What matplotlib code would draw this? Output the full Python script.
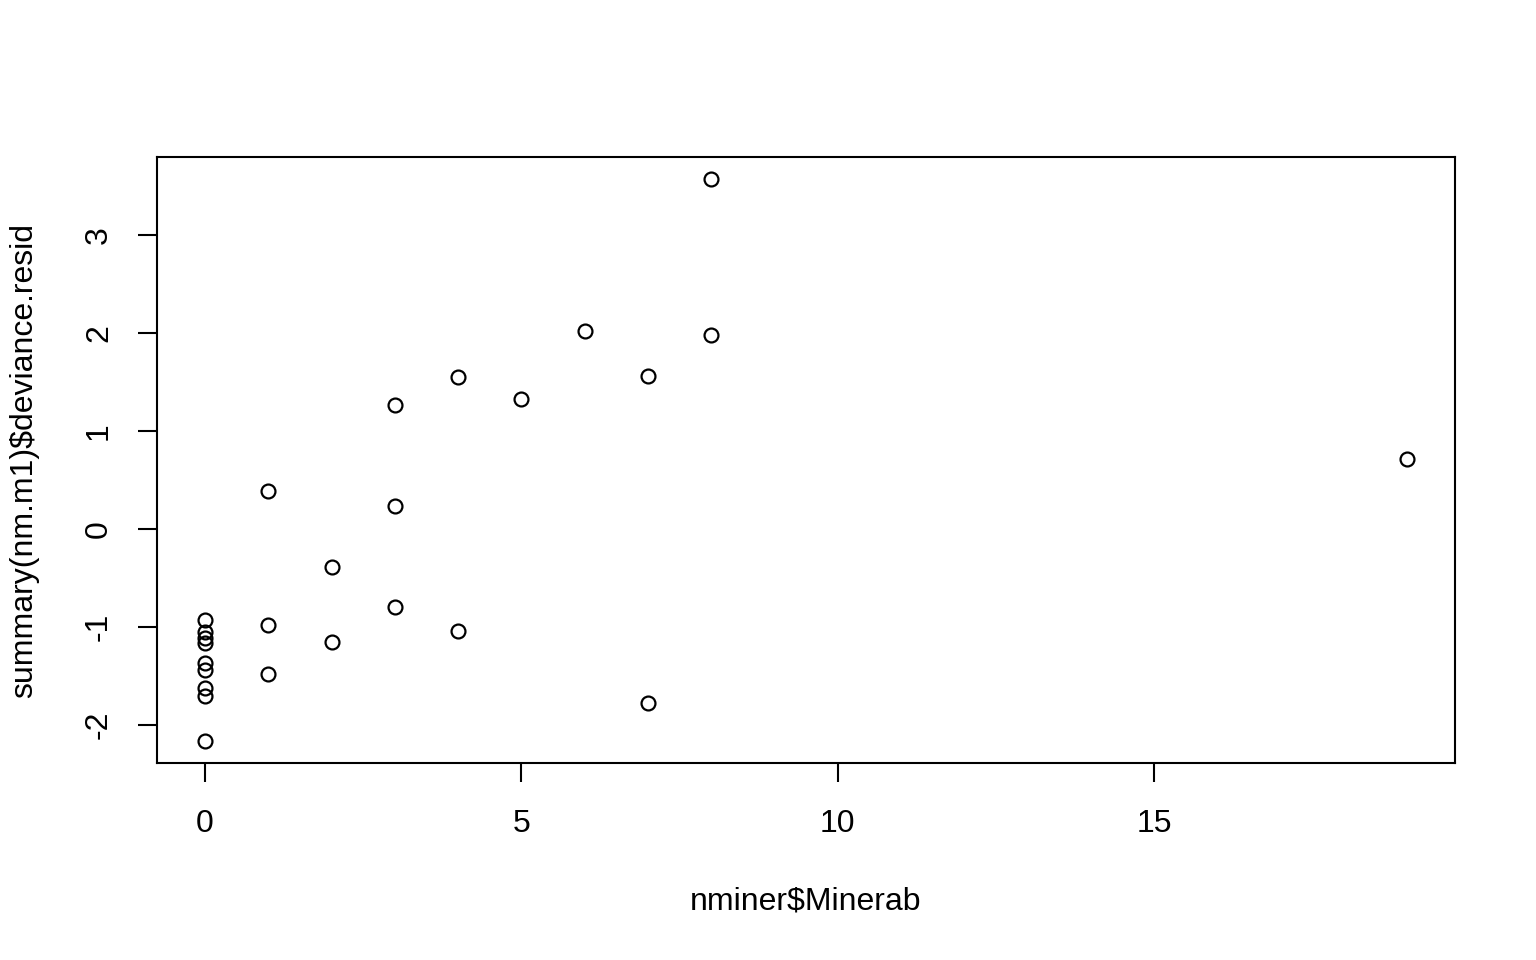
"""Deviance residuals vs Minerab, R base-graphics look."""

import matplotlib

matplotlib.use("Agg")
import matplotlib.pyplot as plt

minerab = [0, 0, 0, 0, 0, 0, 0, 0, 0,
           1, 1, 1, 2, 2, 3, 3, 3, 4, 4, 5, 6, 7, 7, 8, 8, 19]
resid = [-0.93, -1.05, -1.11, -1.16, -1.37, -1.44, -1.62, -1.70, -2.16,
         0.39, -0.98, -1.48, -0.39, -1.15, 1.27, 0.24, -0.80, 1.55, -1.04,
         1.33, 2.02, 1.56, -1.78, 3.57, 1.98, 0.72]

x_ticks = [0, 5, 10, 15]
y_ticks = [-2, -1, 0, 1, 2, 3]

plt.rcParams["font.family"] = ["Liberation Sans", "DejaVu Sans"]
plt.rcParams["axes.unicode_minus"] = False  # R draws a plain hyphen

fig = plt.figure(figsize=(15.36, 9.6), dpi=100)
ax = fig.add_axes([157 / 1536, 1 - 763 / 960, 1298 / 1536, 606 / 960])

ax.plot(minerab, resid, "o", ms=10, mfc="none", mec="black", mew=1.6)

# R pads the data range by 4% on each side
xr = max(minerab) - min(minerab)
yr = max(resid) - min(resid)
ax.set_xlim(min(minerab) - 0.04 * xr, max(minerab) + 0.04 * xr)
ax.set_ylim(min(resid) - 0.04 * yr, max(resid) + 0.04 * yr)

ax.set_xticks(x_ticks)
ax.set_yticks(y_ticks)
ax.tick_params(length=14, width=1.5, labelsize=23, pad=19)
ax.tick_params(axis="y", labelrotation=90, pad=17)
for lbl in ax.get_yticklabels():
    lbl.set_va("center")
for s in ax.spines.values():
    s.set_linewidth(1.5)

ax.set_xlabel("nminer$Minerab", fontsize=23, va="center")
ax.xaxis.set_label_coords(0.5, -0.228)
ax.set_ylabel("summary(nm.m1)$deviance.resid", fontsize=23, va="center")
ax.yaxis.set_label_coords(-0.102, 0.5)

fig.savefig("out.png", dpi=100)
plt.close(fig)
